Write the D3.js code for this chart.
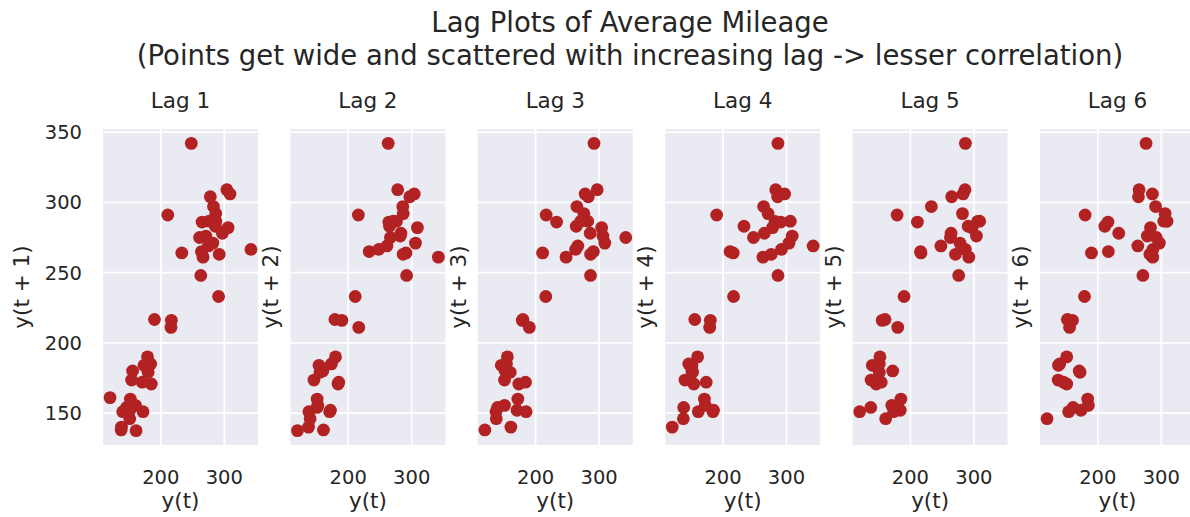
<!DOCTYPE html>
<html lang="en">
<head>
<meta charset="UTF-8">
<title>Lag Plots of Average Mileage</title>
<script src="https://cdn.jsdelivr.net/npm/d3@7"></script>
<style>
    body { margin: 0; background: #fff; }
    text { font-family: 'DejaVu Sans', sans-serif; fill: #262626; }
    .grid line { stroke: #fff; stroke-width: 1.8; }
</style>
</head>
<body>
<svg id="chart" width="1190" height="517"></svg>
<script>
    const mileage = [120, 161, 137.5, 138, 140, 151, 146, 154, 173.5, 184, 185, 170.7, 172,
        151, 152, 160, 155.5, 180, 179, 190, 216.6, 216, 211, 291, 233, 264, 265, 286, 283,
        297, 278, 304, 309, 306, 282, 271, 276, 286.6, 286.5, 292, 263, 248, 342, 266.5,
        261, 275, 269];
    const lags = [1, 2, 3, 4, 5, 6];
    const xTicks = [200, 300];
    const yTicks = [150, 200, 250, 300, 350];

    const svg = d3.select("#chart");
    const panel = {left: 103, step: 187.4, w: 155, top: 129, h: 316};

    // shared axes, matplotlib style 5% margin
    const pad = ([a, b]) => [a - (b - a) * 0.05, b + (b - a) * 0.05];
    const x = d3.scaleLinear().domain(pad(d3.extent(mileage.slice(0, -1)))).range([0, panel.w]);
    const y = d3.scaleLinear().domain(pad(d3.extent(mileage.slice(1)))).range([panel.h, 0]);

    svg.append("text")
        .attr("x", 630).attr("y", 32)
        .attr("text-anchor", "middle").style("font-size", "27.5px")
        .text("Lag Plots of Average Mileage");
    svg.append("text")
        .attr("x", 630).attr("y", 65)
        .attr("text-anchor", "middle").style("font-size", "27.5px")
        .text("(Points get wide and scattered with increasing lag -> lesser correlation)");

    lags.forEach((lag, i) => {
        const g = svg.append("g")
            .attr("transform", `translate(${panel.left + i * panel.step},${panel.top})`);
        const pairs = d3.range(mileage.length - lag).map(t => [mileage[t], mileage[t + lag]]);

        g.append("rect").attr("width", panel.w).attr("height", panel.h).attr("fill", "#eaeaf2");

        const grid = g.append("g").attr("class", "grid");
        grid.selectAll("line.v").data(xTicks).join("line").attr("class", "v")
            .attr("x1", d => x(d)).attr("x2", d => x(d)).attr("y1", 0).attr("y2", panel.h);
        grid.selectAll("line.h").data(yTicks).join("line").attr("class", "h")
            .attr("x1", 0).attr("x2", panel.w).attr("y1", d => y(d)).attr("y2", d => y(d));

        g.selectAll("circle").data(pairs).join("circle")
            .attr("cx", d => x(d[0])).attr("cy", d => y(d[1]))
            .attr("r", 6.4).attr("fill", "#b22222");

        // x tick labels on every panel
        g.selectAll("text.xt").data(xTicks).join("text").attr("class", "xt")
            .attr("x", d => x(d)).attr("y", panel.h + 39)
            .attr("text-anchor", "middle").style("font-size", "19.5px")
            .text(d => d);

        // y tick labels only on the first panel (sharey)
        if (i === 0) {
            g.selectAll("text.yt").data(yTicks).join("text").attr("class", "yt")
                .attr("x", -21).attr("y", d => y(d) + 7)
                .attr("text-anchor", "end").style("font-size", "19.5px")
                .text(d => d);
        }

        g.append("text")
            .attr("x", panel.w / 2).attr("y", -21)
            .attr("text-anchor", "middle").style("font-size", "21.5px")
            .text(`Lag ${lag}`);

        g.append("text")
            .attr("x", panel.w / 2).attr("y", panel.h + 63)
            .attr("text-anchor", "middle").style("font-size", "21.5px")
            .text("y(t)");

        g.append("text")
            .attr("transform", `translate(${i === 0 ? -74 : -12},${panel.h / 2}) rotate(-90)`)
            .attr("text-anchor", "middle").style("font-size", "21.5px")
            .text(`y(t + ${lag})`);
    });
</script>
</body>
</html>
